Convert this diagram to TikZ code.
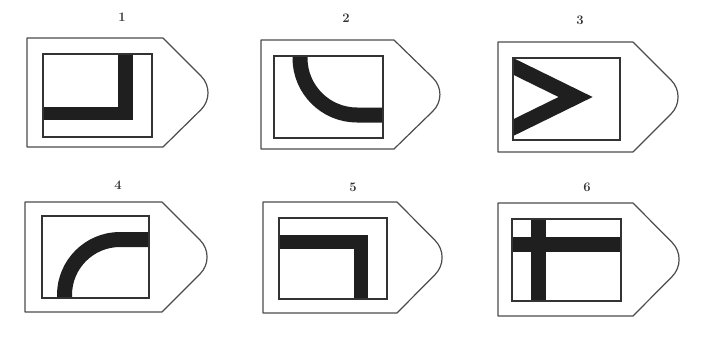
\documentclass[tikz,border=0pt]{standalone}
\begin{document}
\begin{tikzpicture}[x=1pt,y=-1pt,
  outline/.style={draw=black!70,line width=1.2pt,line join=round},
  frame/.style={draw=black!80,line width=1.2pt},
  band/.style={fill=black!88},
  bandline/.style={draw=black!88,line width=15pt},
  numlabel/.style={font=\fontsize{13}{14}\selectfont\bfseries,text=black!80,inner sep=0pt}]
\useasboundingbox (0,0) rectangle (705,340);
\fill[white] (0,0) rectangle (705,340);

% ---------- panel 1 ----------
\path[outline] (27,38) -- (163,38) [rounded corners=24pt] -- (218,93) [sharp corners] -- (163,147) -- (27,147) -- cycle;
\fill[band] (118,54) rectangle (133,120);
\fill[band] (43,107) rectangle (133,120);
\path[frame] (43,54) rectangle (152,137);
\node[numlabel] (n1) at (122,17) {1};

% ---------- panel 2 ----------
\path[outline] (261,40) -- (394,40) [rounded corners=24pt] -- (450,94.5) [sharp corners] -- (394,149) -- (261,149) -- cycle;
\begin{scope}
  \clip (274,56) rectangle (383,138);
  \draw[bandline] (300,45) -- (300,58) arc[start angle=180,end angle=90,radius=57] -- (395,115);
\end{scope}
\path[frame] (274,56) rectangle (383,138);
\node[numlabel] (n2) at (346,18) {2};

% ---------- panel 3 ----------
\path[outline] (498,42) -- (633,42) [rounded corners=24pt] -- (688,97) [sharp corners] -- (633,152) -- (498,152) -- cycle;
\begin{scope}
  \clip (513,58) rectangle (620,140);
  \draw[bandline,line join=miter,miter limit=10] (500,59.9) -- (575.6,97) -- (500,134.1);
\end{scope}
\path[frame] (513,58) rectangle (620,140);
\node[numlabel] (n3) at (580,20) {3};

% ---------- panel 4 ----------
\path[outline] (25,202) -- (162,202) [rounded corners=24pt] -- (217,257) [sharp corners] -- (162,312) -- (25,312) -- cycle;
\begin{scope}
  \clip (42,216) rectangle (149,298);
  \draw[bandline] (64.5,310) -- (64.5,295) arc[start angle=180,end angle=270,radius=55.5] -- (160,239.5);
\end{scope}
\path[frame] (42,216) rectangle (149,298);
\node[numlabel] (n4) at (118,185) {4};

% ---------- panel 5 ----------
\path[outline] (263,202) -- (397,202) [rounded corners=24pt] -- (452,257.5) [sharp corners] -- (397,313) -- (263,313) -- cycle;
\fill[band] (279,235) rectangle (368,249);
\fill[band] (354,235) rectangle (368,299);
\path[frame] (279,218) rectangle (387,299);
\node[numlabel] (n5) at (353,187) {5};

% ---------- panel 6 ----------
\path[outline] (498,203) -- (633,203) [rounded corners=24pt] -- (689,259.5) [sharp corners] -- (633,316) -- (498,316) -- cycle;
\fill[band] (531,219) rectangle (546,301);
\fill[band] (512,237) rectangle (621,252);
\path[frame] (512,219) rectangle (621,301);
\node[numlabel] (n6) at (587,187) {6};
\end{tikzpicture}
\end{document}
